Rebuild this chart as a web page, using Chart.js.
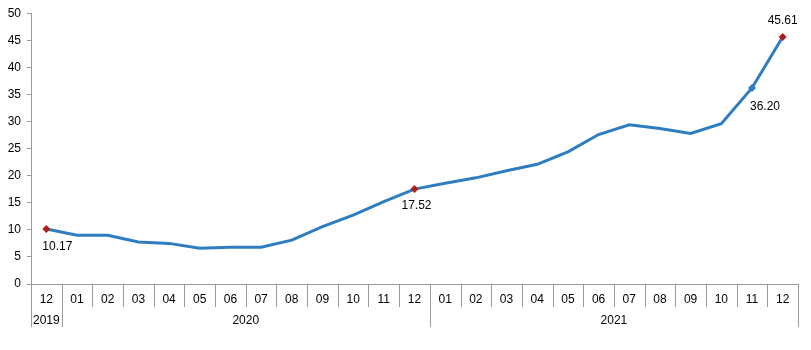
<!DOCTYPE html>
<html><head><meta charset="utf-8">
<script src="https://cdn.jsdelivr.net/npm/chart.js@4"></script>
<style>html,body{margin:0;padding:0;background:#fff}#wrap{width:811px;height:350px}</style>
</head><body><div id="wrap"><canvas id="c" width="811" height="350"></canvas></div>
<script>
const months = ['12','01','02','03','04','05','06','07','08','09','10','11','12','01','02','03','04','05','06','07','08','09','10','11','12'];
const values = [10.17,9.0,9.0,7.75,7.5,6.6,6.8,6.8,8.1,10.6,12.7,15.2,17.52,18.6,19.6,20.9,22.1,24.4,27.6,29.4,28.7,27.8,29.6,36.20,45.61];
const years = [{label:'2019',from:0,to:0},{label:'2020',from:1,to:12},{label:'2021',from:13,to:24}];
const labelled = [0,12,23,24];
const markerColors = values.map((v,i)=> i===23 ? '#2E7DC0' : (labelled.includes(i) ? '#B01E1E' : 'rgba(0,0,0,0)'));
const markerRadius = values.map((v,i)=> labelled.includes(i) ? 4 : 0);
const labelOffsets = {0:[11,18],12:[2,17],23:[13,19],24:[0,-16]};
const FONT = '12px "Liberation Sans", Arial, sans-serif';
const AXIS = '#9a9a9a';

const extras = {
  id:'extras',
  afterDraw(chart){
    const ctx = chart.ctx, x = chart.scales.x, ca = chart.chartArea;
    const half = (x.getPixelForValue(1)-x.getPixelForValue(0))/2;
    ctx.save();
    ctx.strokeStyle = AXIS; ctx.lineWidth = 1;
    const yearBounds = new Set();
    years.forEach(y=>{yearBounds.add(y.from);yearBounds.add(y.to+1);});
    for(let i=0;i<=months.length;i++){
      const px = Math.round(x.getPixelForValue(i)-half)+0.5;
      const len = yearBounds.has(i) ? 43 : 23;
      ctx.beginPath(); ctx.moveTo(px, ca.bottom); ctx.lineTo(px, ca.bottom+len); ctx.stroke();
    }
    ctx.fillStyle = '#000'; ctx.font = FONT; ctx.textAlign='center'; ctx.textBaseline='middle';
    years.forEach(y=>{
      const cx = (x.getPixelForValue(y.from)+x.getPixelForValue(y.to))/2;
      ctx.fillText(y.label, cx, ca.bottom+37);
    });
    const meta = chart.getDatasetMeta(0);
    labelled.forEach(i=>{
      const p = meta.data[i]; const o = labelOffsets[i];
      ctx.fillText(values[i].toFixed(2), p.x+o[0], p.y+o[1]);
    });
    ctx.restore();
  }
};

new Chart(document.getElementById('c'),{
  type:'line',
  data:{labels:months,datasets:[{data:values,borderColor:'#2E7DC0',borderWidth:3,tension:0,
    pointStyle:'rectRot',pointRadius:markerRadius,pointBackgroundColor:markerColors,pointBorderColor:markerColors,pointBorderWidth:0,pointHoverRadius:markerRadius}]},
  options:{
    responsive:false,animation:false,
    layout:{padding:{top:7,right:13,left:0,bottom:0}},
    plugins:{legend:{display:false},tooltip:{enabled:false}},
    scales:{
      x:{offset:true,
        grid:{display:false,drawTicks:false},
        border:{display:true,color:AXIS,width:1},
        ticks:{color:'#000',font:{family:'"Liberation Sans", Arial, sans-serif',size:12},padding:8,maxRotation:0,autoSkip:false},
        afterFit(s){s.height=66;}
      },
      y:{min:0,max:50,
        grid:{drawOnChartArea:false,tickLength:4,color:AXIS},
        border:{display:true,color:AXIS,width:1},
        ticks:{stepSize:5,color:'#000',font:{family:'"Liberation Sans", Arial, sans-serif',size:12},padding:6},
        afterFit(s){s.width=31;}
      }
    }
  },
  plugins:[extras]
});
</script></body></html>
